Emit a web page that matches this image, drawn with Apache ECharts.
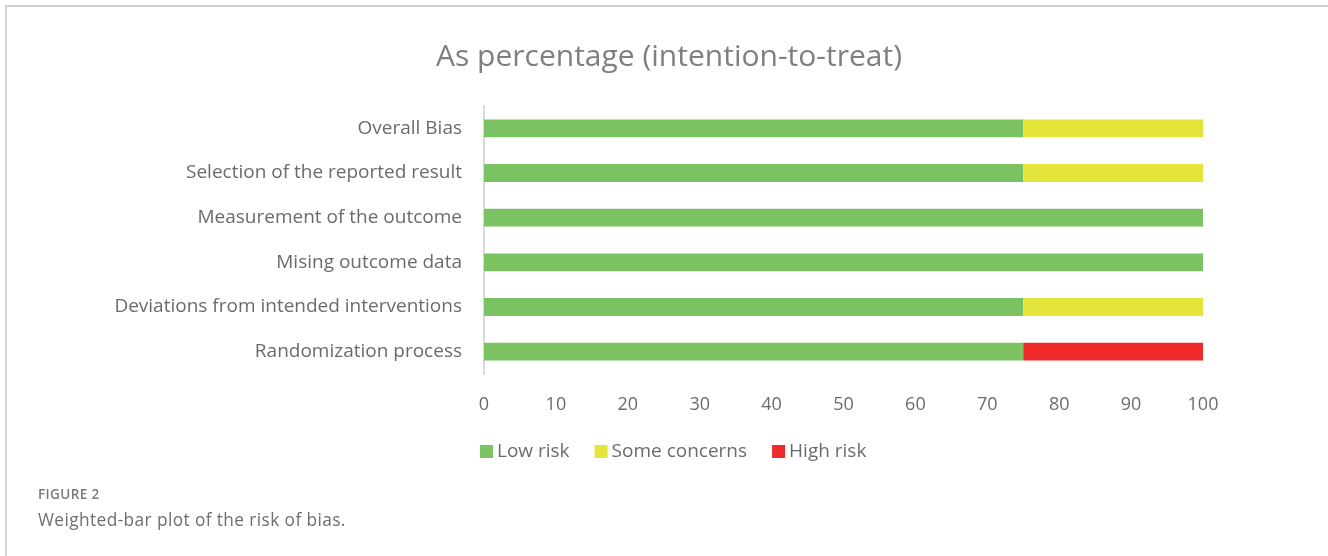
<!DOCTYPE html>
<html>
<head>
<meta charset="utf-8">
<script src="https://cdn.jsdelivr.net/npm/echarts@6/dist/echarts.min.js"></script>
<style>
  html, body { margin: 0; padding: 0; background: #fff; }
  #frame { position: absolute; left: 5px; top: 5px; width: 1323px; height: 551px;
           border-top: 2px solid #cfcfcf; border-left: 2px solid #d6d6d6; box-sizing: border-box; }
  #chart { position: absolute; left: 0; top: 0; width: 1328px; height: 556px; }
  .cap1 { position: absolute; left: 38px; top: 485px; font-family: "Open Sans", Lato, sans-serif;
          font-size: 13.5px; font-weight: 600; color: #7a7a7a; letter-spacing: 0.4px; }
  .cap2 { position: absolute; left: 38px; top: 508px; font-family: "Open Sans", Lato, sans-serif;
          font-size: 17.3px; color: #6e6e6e; letter-spacing: 0.4px; }
</style>
</head>
<body>
<div id="frame"></div>
<div id="chart"></div>
<div class="cap1">FIGURE 2</div>
<div class="cap2">Weighted-bar plot of the risk of bias.</div>
<script>
const titleText = 'As percentage (intention-to-treat)';
const categories = ['Randomization process', 'Deviations from intended interventions', 'Mising outcome data',
  'Measurement of the outcome', 'Selection of the reported result', 'Overall Bias'];
const lowRisk = [75, 75, 100, 100, 75, 75];
const someConcerns = [0, 25, 0, 0, 25, 25];
const highRisk = [25, 0, 0, 0, 0, 0];
const xTicks = [0, 10, 20, 30, 40, 50, 60, 70, 80, 90, 100];

const chart = echarts.init(document.getElementById('chart'));
const font = '"Open Sans", Lato, sans-serif';
const mk = (name, data, color) => ({
  name, type: 'bar', stack: 'total', data, barCategoryGap: '60%',
  itemStyle: { color }, emphasis: { disabled: true }
});
chart.setOption({
  animation: false,
  title: { text: titleText, left: 664, textAlign: 'center', top: 37,
           textStyle: { fontFamily: font, fontSize: 30, fontWeight: 'normal', color: '#7f7f7f' } },
  grid: { left: 484, right: 125, top: 106, bottom: 182, containLabel: false },
  legend: { left: 480, top: 442, padding: 0, icon: 'rect', itemWidth: 13, itemHeight: 13, itemGap: 25,
            textStyle: { fontFamily: font, fontSize: 19, color: '#6b6b6b', padding: [0, 0, 0, -1] },
            data: ['Low risk', 'Some concerns', 'High risk'] },
  xAxis: { type: 'value', min: 0, max: 100, interval: 10,
           axisLine: { show: false }, axisTick: { show: false }, splitLine: { show: false },
           axisLabel: { margin: 22, fontFamily: font, fontSize: 18, color: '#6b6b6b',
                        formatter: v => xTicks.includes(v) ? String(v) : '' } },
  yAxis: { type: 'category', data: categories,
           axisLine: { show: true, lineStyle: { color: '#d9d9d9', width: 2 } },
           axisTick: { show: false },
           axisLabel: { margin: 22, fontFamily: font, fontSize: 19, color: '#6b6b6b', padding: [2, 0, 0, 0] } },
  series: [
    mk('Low risk', lowRisk, '#7bc263'),
    mk('Some concerns', someConcerns, '#e5e43b'),
    mk('High risk', highRisk, '#ee2a2b')
  ]
});
</script>
</body>
</html>
